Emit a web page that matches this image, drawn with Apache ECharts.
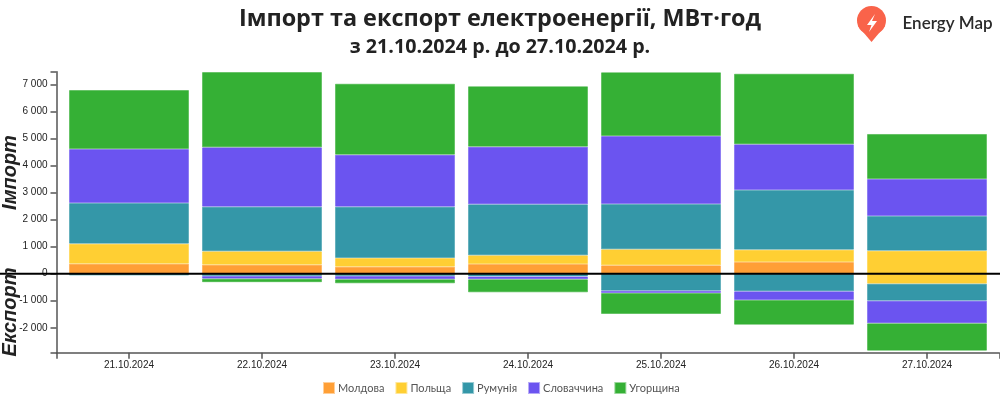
<!DOCTYPE html>
<html>
<head>
<meta charset="utf-8">
<style>
html, body { margin: 0; padding: 0; background: #fff; }
#main { width: 1000px; height: 400px; }
</style>
<script src="https://cdn.jsdelivr.net/npm/echarts@6/dist/echarts.min.js"></script>
</head>
<body>
<div id="main"></div>
<script>
// дані, МВт·год (null - перетоку не було)
const dates = ['21.10.2024', '22.10.2024', '23.10.2024', '24.10.2024', '25.10.2024', '26.10.2024', '27.10.2024'];
const countries = ['Молдова', 'Польща', 'Румунія', 'Словаччина', 'Угорщина'];
const colors = ['#ff9f36', '#ffcf33', '#3497a8', '#6b54f0', '#35b035'];

const importMoldova = [370, 333, 259, 357, 308, 431, null];
const importPoland = [739, 492, 320, 320, 591, 456, 850];
const importRomania = [1502, 1651, 1897, 1887, 1677, 2206, 1282];
const importSlovakia = [1996, 2193, 1921, 2129, 2512, 1689, 1368];
const importHungary = [2180, 2781, 2624, 2232, 2354, 2608, 1663];

const exportMoldova = [null, null, null, null, null, null, null];
const exportPoland = [null, null, null, null, null, null, -370];
const exportRomania = [-70, -86, -86, -100, -628, -653, -628];
const exportSlovakia = [null, -99, -123, -109, -86, -320, -837];
const exportHungary = [null, -130, -148, -481, -776, -912, -1010];

const yTicks = [-2000, -1000, 0, 1000, 2000, 3000, 4000, 5000, 6000, 7000];
const yMin = -2920;
const yMax = 7465;

const importRows = [importMoldova, importPoland, importRomania, importSlovakia, importHungary];
const exportRows = [exportMoldova, exportPoland, exportRomania, exportSlovakia, exportHungary];

// один стек: додатні й від'ємні значення ECharts складає окремо
function makeSeries(rows) {
    return rows.map((row, c) => ({
        name: countries[c],
        type: 'bar',
        stack: 'total',
        xAxisIndex: 0,
        yAxisIndex: 0,
        barWidth: 120,
        itemStyle: {
            color: colors[c],
            borderColor: colors[c] + '80',
            borderWidth: 1
        },
        emphasis: { disabled: true },
        data: row
    }));
}

let axisStroke = { color: '#555', width: 1.5 };

let myChart = echarts.init(document.getElementById('main'));
let option = {
    animation: false,
    title: [
        {
            text: 'Імпорт та експорт електроенергії, МВт·год',
            left: 495, top: 3, textAlign: 'center',
            textStyle: { fontFamily: 'Open Sans', fontSize: 23.4, fontWeight: 'bold', color: '#222' }
        },
        {
            text: 'з 21.10.2024 р. до 27.10.2024 р.',
            left: 495, top: 32, textAlign: 'center',
            textStyle: { fontFamily: 'Open Sans', fontSize: 19.7, fontWeight: 'bold', color: '#222' }
        }
    ],
    legend: {
        data: countries,
        left: 323,
        top: 382,
        padding: 0,
        itemWidth: 10,
        itemHeight: 10,
        itemGap: 11,
        icon: 'rect',
        textStyle: { fontFamily: 'Lato', fontSize: 11, color: '#555', padding: [0, 0, 0, -1] }
    },
    // перша сітка для стовпчиків (смуга 133px), друга лише малює довші осі
    grid: [
        { left: 62.5, width: 931, top: 71.7, bottom: 47.3 },
        { left: 56.5, width: 942.8, top: 71.7, bottom: 47.3 }
    ],
    xAxis: [
        {
            type: 'category',
            gridIndex: 0,
            data: dates,
            axisLine: { show: false, onZero: false },
            axisTick: { show: true, alignWithLabel: true, length: 6, lineStyle: axisStroke },
            axisLabel: {
                margin: 8,
                interval: 0,
                fontFamily: 'Liberation Sans',
                fontSize: 10,
                color: '#222'
            }
        },
        {
            type: 'value',
            gridIndex: 1,
            min: 0,
            max: 1,
            interval: 1,
            splitLine: { show: false },
            axisLine: { show: true, onZero: false, lineStyle: axisStroke },
            axisTick: { show: true, length: 6, lineStyle: axisStroke },
            axisLabel: { show: false }
        }
    ],
    yAxis: [
        {
            type: 'value',
            gridIndex: 0,
            min: yMin,
            max: yMax,
            show: false
        },
        {
            type: 'value',
            gridIndex: 1,
            min: yMin,
            max: yMax,
            splitLine: { show: false },
            axisLine: { show: true, lineStyle: axisStroke },
            axisTick: { show: true, length: 6, customValues: [yMin].concat(yTicks, [yMax]), lineStyle: axisStroke },
            axisLabel: {
                customValues: yTicks,
                margin: 9,
                fontFamily: 'Liberation Sans',
                fontSize: 10,
                color: '#222',
                formatter: function (value) {
                    return String(value).replace(/(\d)(\d{3})$/, '$1 $2');
                }
            }
        }
    ],
    series: makeSeries(importRows).concat(makeSeries(exportRows))
};
myChart.setOption(option);

// нульова лінія на всю ширину, підписи збоку і логотип
const zeroY = myChart.convertToPixel({ yAxisIndex: 0 }, 0);
myChart.setOption({
    graphic: [
        {
            type: 'line', z: 100,
            shape: { x1: 0, y1: zeroY, x2: 1000, y2: zeroY },
            style: { stroke: '#000', lineWidth: 2 }
        },
        {
            type: 'text', z: 100, x: 10, y: 172.5, rotation: Math.PI / 2,
            style: { text: 'Імпорт', font: 'italic bold 20px "Liberation Sans"', fill: '#222', align: 'center', verticalAlign: 'middle' }
        },
        {
            type: 'text', z: 100, x: 10, y: 312, rotation: Math.PI / 2,
            style: { text: 'Експорт', font: 'italic bold 20px "Liberation Sans"', fill: '#222', align: 'center', verticalAlign: 'middle' }
        },
        {
            type: 'circle', z: 100,
            shape: { cx: 871.5, cy: 20.5, r: 14.5 },
            style: { fill: '#f9634a' }
        },
        {
            type: 'polygon', z: 100,
            shape: { points: [[858, 26], [885, 26], [871.5, 42]] },
            style: { fill: '#f9634a' }
        },
        {
            type: 'polygon', z: 101,
            shape: { points: [[875, 14], [867, 25], [871.5, 25], [869, 32], [877, 21], [872, 21]] },
            style: { fill: '#fff' }
        },
        {
            type: 'text', z: 100, x: 902.5, y: 24,
            style: { text: 'Energy Map', font: '600 17px "Lato"', fill: '#2b2b2b', align: 'left', verticalAlign: 'middle' }
        }
    ]
});
</script>
</body>
</html>
